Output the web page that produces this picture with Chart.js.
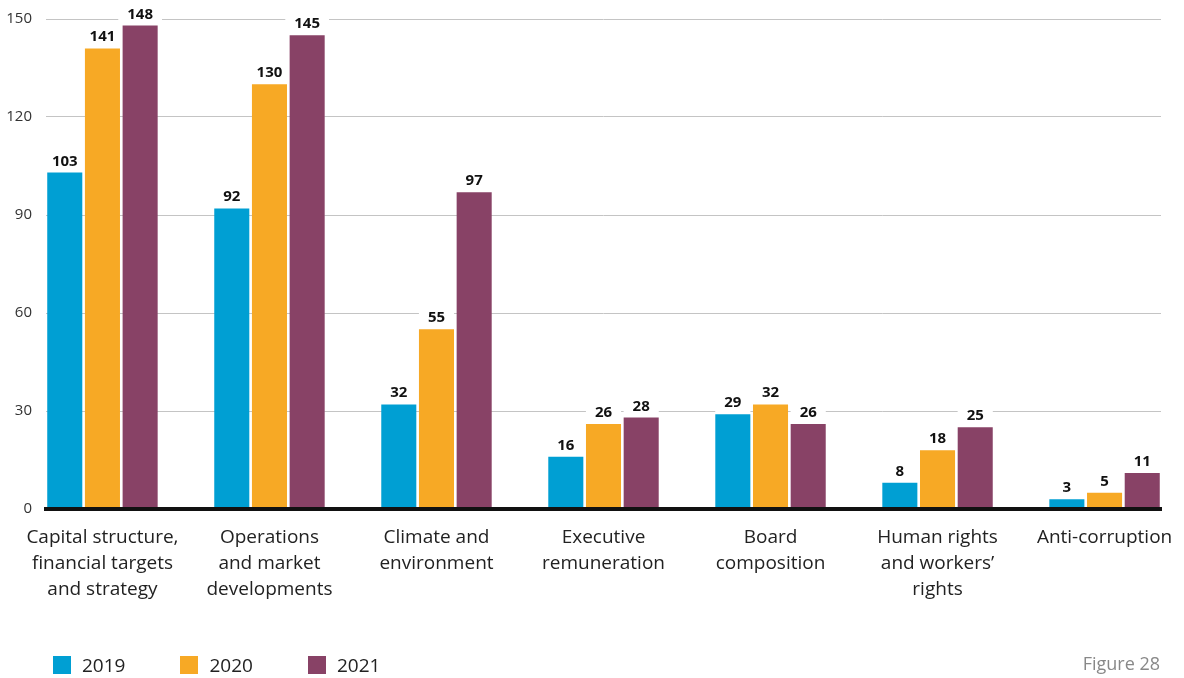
<!DOCTYPE html>
<html>
<head>
<meta charset="utf-8">
<title>Engagement topics 2019-2021</title>
<script src="https://cdn.jsdelivr.net/npm/chart.js@4.4.1/dist/chart.umd.min.js"></script>
<style>
body { margin: 0; background: #fff; font-family: 'Open Sans', sans-serif; }
#wrap { position: relative; width: 1184px; height: 678px; }
#legend { position: absolute; left: 53px; top: 656px; display: flex; gap: 55px; }
.item { display: flex; align-items: center; height: 18px; font-size: 19px; color: #222; }
.swatch { width: 18px; height: 18px; margin-right: 11px; }
#fig { position: absolute; right: 24px; top: 651px; font-size: 18px; color: #888; }
</style>
</head>
<body>
<div id="wrap">
  <canvas id="chart" width="1184" height="678"></canvas>
  <div id="legend"></div>
  <div id="fig">Figure 28</div>
</div>
<script>
var topics = [
  ['Capital structure,', 'financial targets', 'and strategy'],
  ['Operations', 'and market', 'developments'],
  ['Climate and', 'environment'],
  ['Executive', 'remuneration'],
  ['Board', 'composition'],
  ['Human rights', 'and workers\u2019', 'rights'],
  ['Anti-corruption']
];
var years = ['2019', '2020', '2021'];
var counts2019 = [103, 92, 32, 16, 29, 8, 3];
var counts2020 = [141, 130, 55, 26, 32, 18, 5];
var counts2021 = [148, 145, 97, 28, 26, 25, 11];
var yTicks = [0, 30, 60, 90, 120, 150];
var colours = ['#009fd3', '#f7a925', '#884266'];

var series = [counts2019, counts2020, counts2021];

// groups sit flush with the plot edges, so the x axis is linear
// and runs half a group past the first and last topic
var groupHalf = 0.338;

Chart.defaults.font.family = "'Open Sans', sans-serif";

var labelFont = 'bold 15px "Open Sans"';

// value above each bar; a white patch breaks the grid line behind it
// (patch goes down before the bars so neighbouring bars stay whole)
var barLabels = {
  id: 'barLabels',
  beforeDatasetsDraw: function (chart) {
    var ctx = chart.ctx;
    ctx.save();
    ctx.font = labelFont;
    ctx.fillStyle = '#fff';
    chart.data.datasets.forEach(function (ds, d) {
      chart.getDatasetMeta(d).data.forEach(function (bar, i) {
        var w = ctx.measureText(String(ds.data[i].y)).width + 18;
        ctx.fillRect(bar.x - w / 2, bar.y - 24, w, 22);
      });
    });
    ctx.restore();
  },
  afterDatasetsDraw: function (chart) {
    var ctx = chart.ctx;
    ctx.save();
    ctx.font = labelFont;
    ctx.textAlign = 'center';
    ctx.textBaseline = 'alphabetic';
    ctx.fillStyle = '#111';
    chart.data.datasets.forEach(function (ds, d) {
      chart.getDatasetMeta(d).data.forEach(function (bar, i) {
        ctx.fillText(String(ds.data[i].y), bar.x, bar.y - 7);
      });
    });
    ctx.restore();
  }
};

var datasets = series.map(function (values, s) {
  return {
    label: years[s],
    data: values.map(function (v, i) { return { x: i, y: v }; }),
    backgroundColor: colours[s],
    borderWidth: 0
  };
});

new Chart(document.getElementById('chart').getContext('2d'), {
  type: 'bar',
  data: { datasets: datasets },
  plugins: [barLabels],
  options: {
    responsive: false,
    animation: false,
    devicePixelRatio: 1,
    categoryPercentage: 0.677,
    barPercentage: 0.93,
    layout: { padding: { top: 19, right: 23, bottom: 0, left: 0 } },
    plugins: {
      legend: { display: false },
      tooltip: { enabled: false }
    },
    scales: {
      x: {
        type: 'linear',
        offset: false,
        min: -groupHalf,
        max: topics.length - 1 + groupHalf,
        grid: { display: false, offset: false },
        border: { display: true, color: '#111', width: 4, z: 1 },
        ticks: {
          stepSize: 1,
          includeBounds: false,
          autoSkip: false,
          maxRotation: 0,
          padding: 8,
          color: '#222',
          font: { size: 19, lineHeight: '26px' },
          callback: function (v) {
            return Number.isInteger(v) && topics[v] ? topics[v] : '';
          }
        },
        afterFit: function (scale) {
          scale.height = 169;
          scale.paddingLeft = 0;
          scale.paddingRight = 0;
        }
      },
      y: {
        min: 0,
        max: 150,
        grid: { color: '#c4c4c4', lineWidth: 1, drawTicks: false },
        border: { display: false },
        ticks: { padding: 14, color: '#333', font: { size: 15 } },
        afterBuildTicks: function (scale) {
          scale.ticks = yTicks.map(function (v) { return { value: v }; });
        },
        afterFit: function (scale) {
          scale.width = 46;
          scale.paddingTop = 0;
          scale.paddingBottom = 0;
        }
      }
    }
  }
});

// legend row under the chart
var legend = document.getElementById('legend');
years.forEach(function (y, s) {
  var item = document.createElement('div');
  item.className = 'item';
  var sw = document.createElement('span');
  sw.className = 'swatch';
  sw.style.background = colours[s];
  item.appendChild(sw);
  item.appendChild(document.createTextNode(y));
  legend.appendChild(item);
});
</script>
</body>
</html>
